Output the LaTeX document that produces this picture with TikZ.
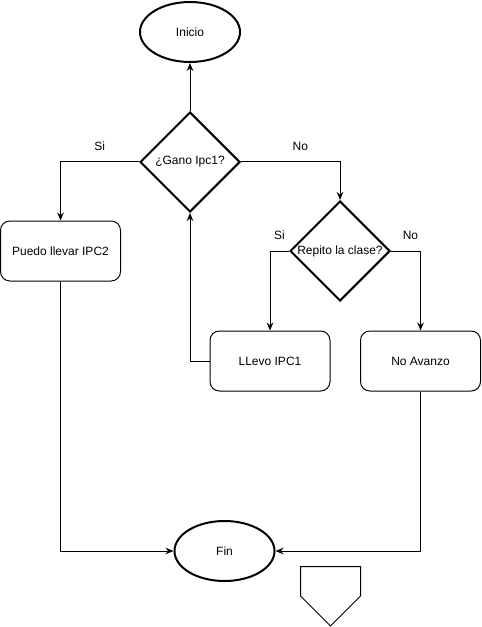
\documentclass[tikz,border=0pt]{standalone}
\usepackage{fontspec}
\setmainfont{Liberation Sans}
\usetikzlibrary{shapes.geometric,arrows.meta}
\tikzset{
  terminal/.style={draw, ellipse, line width=1.5pt, minimum width=75pt, minimum height=45pt, inner sep=0pt},
  decision/.style={draw, diamond, line width=1.5pt, minimum width=75pt, minimum height=75pt, inner sep=0pt},
  process/.style={draw, rounded corners=7pt, line width=0.75pt, minimum width=90pt, minimum height=45pt},
  flow/.style={-{Stealth[length=6pt,width=5pt]}, line width=0.75pt},
  answer/.style={above=7pt, inner sep=1pt}
}
\begin{document}
\begin{tikzpicture}[x=0.75pt, y=-0.75pt, font=\fontsize{9}{11}\selectfont]
\useasboundingbox (0,0) rectangle (481,627);

\node[terminal] (inicio) at (190,32) {Inicio};
\node[decision, label={center:¿Gano Ipc1?}] (gano) at (190,162) {};
\node[process] (ipc2) at (60.5,251) {Puedo llevar IPC2};
\node[decision, label={center:Repito la clase?}] (repito) at (340,251) {};
\node[process] (llevo) at (270,361) {LLevo IPC1};
\node[process] (noavanzo) at (420.5,361) {No Avanzo};
\node[terminal] (fin) at (224.5,551) {Fin};

\draw[flow] (gano) -- (inicio);
\draw[flow] (gano.west) -| node[answer, pos=0.25] {Si} (ipc2.north);
\draw[flow] (gano.east) -| node[answer, pos=0.3] {No} (repito.north);
\draw[flow] (repito.west) -| node[answer, pos=0.25] {Si} (llevo.north);
\draw[flow] (repito.east) -| node[answer, pos=0.33] {No} (noavanzo.north);
\draw[flow] (llevo.west) -| (gano.south);
\draw[flow] (ipc2.south) |- (fin.west);
\draw[flow] (noavanzo.south) |- (fin.east);

\draw[line width=0.75pt] (300.5,566.5) -- (360.5,566.5) -- (360.5,596) -- (330.5,626) -- (300.5,596) -- cycle;
\end{tikzpicture}
\end{document}
